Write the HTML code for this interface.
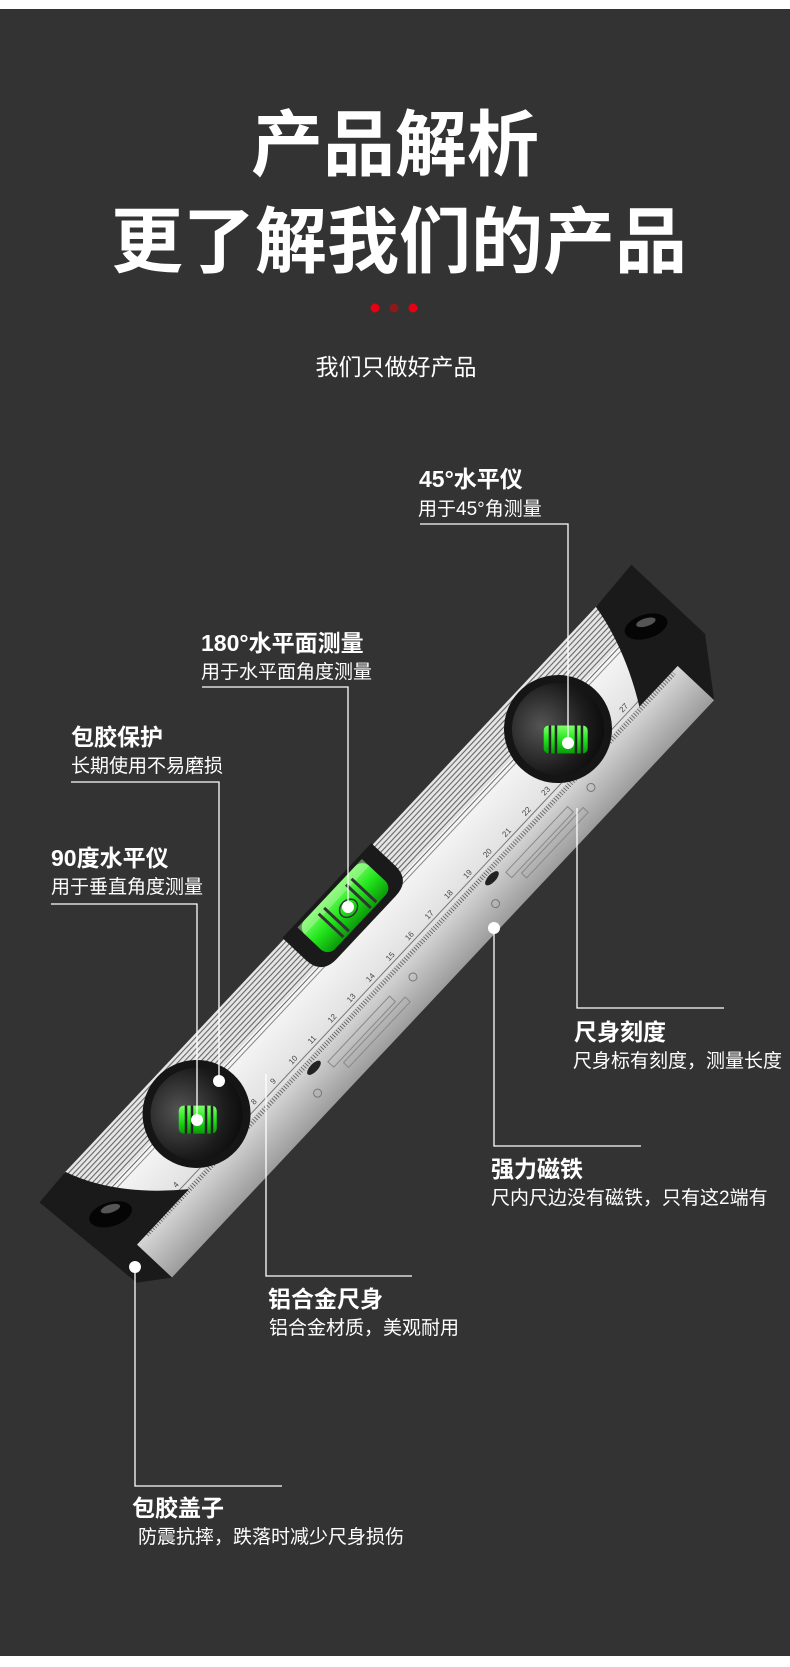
<!DOCTYPE html>
<html><head><meta charset="utf-8">
<style>
html,body{margin:0;padding:0;background:#fff;}
svg{display:block;}
text{font-family:"Liberation Sans","Noto Sans CJK SC",sans-serif;fill:#fff;}
.t{font-size:23px;font-weight:bold;}
.s{font-size:19px;}
</style></head>
<body>
<svg width="790" height="1667" viewBox="0 0 790 1667" xmlns="http://www.w3.org/2000/svg">
<defs>
  <pattern id="str" width="10" height="4" patternUnits="userSpaceOnUse">
    <rect width="10" height="4" fill="#e6e6e6"/>
    <rect y="2.6" width="10" height="1" fill="#5a5a5a"/>
  </pattern>
  <pattern id="mm" x="50" width="2.84" height="10" patternUnits="userSpaceOnUse">
    <rect x="0" y="0" width="0.7" height="5" fill="#444"/>
  </pattern>
  <linearGradient id="side" x1="0" y1="0" x2="0" y2="1">
    <stop offset="0" stop-color="#d8d8d8"/><stop offset="1" stop-color="#9c9c9c"/>
  </linearGradient>
  <linearGradient id="top" x1="0" y1="0" x2="0" y2="1">
    <stop offset="0" stop-color="#f6f6f6"/><stop offset="1" stop-color="#e0e0e0"/>
  </linearGradient>
  <radialGradient id="lens" cx="0.4" cy="0.35" r="0.7">
    <stop offset="0" stop-color="#555"/><stop offset="0.7" stop-color="#1c1c1c"/><stop offset="1" stop-color="#0c0c0c"/>
  </radialGradient>
  <linearGradient id="grn" x1="0" y1="0" x2="0" y2="1">
    <stop offset="0" stop-color="#7dff6a"/><stop offset="0.5" stop-color="#22e51c"/><stop offset="1" stop-color="#0b9a0a"/>
  </linearGradient>
</defs>
<rect width="790" height="1667" fill="#333333"/>
<rect width="790" height="9" fill="#fff"/>
<rect y="1656" width="790" height="11" fill="#fff"/>

<text x="395" y="170" text-anchor="middle" style="font-size:72px;font-weight:bold;">产品解析</text>
<text x="399" y="267" text-anchor="middle" style="font-size:72px;font-weight:bold;">更了解我们的产品</text>
<circle cx="375" cy="308" r="4.5" fill="#e60012"/>
<circle cx="394" cy="308" r="4.5" fill="#8b1a1a"/>
<circle cx="413" cy="308" r="4.5" fill="#e60012"/>
<text x="396" y="375" text-anchor="middle" style="font-size:23px;">我们只做好产品</text>

<g transform="translate(38,1201) rotate(-46.8)">
  <polygon points="33,100 828,100 828,150 36,150" fill="url(#side)"/>
  <rect x="38" y="42" width="790" height="58" fill="url(#top)"/>
  <rect x="38" y="0" width="790" height="42" fill="url(#str)"/>
  <rect x="38" y="44" width="790" height="1" fill="#666"/>
  <rect x="38" y="48" width="790" height="1" fill="#888"/>
  <rect x="38" y="95" width="790" height="1" fill="#777"/>
  <rect x="50" y="100" width="770" height="5" fill="url(#mm)"/>
  <g>
    <text x="48" y="92" style="fill:#444;font-size:8px">2</text>
    <text x="76" y="92" style="fill:#444;font-size:8px">3</text>
    <text x="104" y="92" style="fill:#444;font-size:8px">4</text>
    <text x="133" y="92" style="fill:#444;font-size:8px">5</text>
    <text x="161" y="92" style="fill:#444;font-size:8px">6</text>
    <text x="190" y="92" style="fill:#444;font-size:8px">7</text>
    <text x="218" y="92" style="fill:#444;font-size:8px">8</text>
    <text x="246" y="92" style="fill:#444;font-size:8px">9</text>
    <text x="273" y="92" style="fill:#444;font-size:8px">10</text>
    <text x="301" y="92" style="fill:#444;font-size:8px">11</text>
    <text x="330" y="92" style="fill:#444;font-size:8px">12</text>
    <text x="358" y="92" style="fill:#444;font-size:8px">13</text>
    <text x="386" y="92" style="fill:#444;font-size:8px">14</text>
    <text x="415" y="92" style="fill:#444;font-size:8px">15</text>
    <text x="443" y="92" style="fill:#444;font-size:8px">16</text>
    <text x="472" y="92" style="fill:#444;font-size:8px">17</text>
    <text x="500" y="92" style="fill:#444;font-size:8px">18</text>
    <text x="528" y="92" style="fill:#444;font-size:8px">19</text>
    <text x="557" y="92" style="fill:#444;font-size:8px">20</text>
    <text x="585" y="92" style="fill:#444;font-size:8px">21</text>
    <text x="614" y="92" style="fill:#444;font-size:8px">22</text>
    <text x="642" y="92" style="fill:#444;font-size:8px">23</text>
    <text x="670" y="92" style="fill:#444;font-size:8px">24</text>
    <text x="699" y="92" style="fill:#444;font-size:8px">25</text>
    <text x="727" y="92" style="fill:#444;font-size:8px">26</text>
    <text x="756" y="92" style="fill:#444;font-size:8px">27</text>
    <text x="784" y="92" style="fill:#444;font-size:8px">28</text>
  </g>
  <rect x="300" y="116" width="90" height="8" fill="none" stroke="#888" stroke-width="1"/>
  <rect x="310" y="128" width="90" height="7" fill="none" stroke="#888" stroke-width="1"/>
  <rect x="560" y="116" width="90" height="8" fill="none" stroke="#888" stroke-width="1"/>
  <rect x="570" y="128" width="90" height="7" fill="none" stroke="#888" stroke-width="1"/>
  <circle cx="270" cy="130" r="4" fill="none" stroke="#777"/>
  <circle cx="420" cy="120" r="4" fill="none" stroke="#777"/>
  <circle cx="530" cy="130" r="4" fill="none" stroke="#777"/>
  <circle cx="680" cy="120" r="4" fill="none" stroke="#777"/>
  <ellipse cx="286" cy="110" rx="9" ry="4" fill="#222"/>
  <ellipse cx="546" cy="110" rx="9" ry="4" fill="#222"/>
  <path d="M0,2 L40,0 C52,38 78,72 112,102 L36,102 L36,150 L8,128 Z" fill="#1a1a1a"/>
  <ellipse cx="40" cy="62" rx="22" ry="12" fill="#050505" transform="rotate(30 40 62)"/>
  <ellipse cx="44" cy="58" rx="10" ry="4" fill="#555" transform="rotate(30 44 58)"/>
  <path d="M815,0 L870,-3 L870,98 L828,150 L828,100 L772,100 C792,70 808,35 815,0 Z" fill="#1a1a1a"/>
  <ellipse cx="835" cy="50" rx="22" ry="12" fill="#050505" transform="rotate(30 835 50)"/>
  <ellipse cx="838" cy="47" rx="10" ry="4" fill="#555" transform="rotate(30 838 47)"/>
  <path d="M359,-2 L489,-2 L489,30 Q489,52 467,52 L381,52 Q359,52 359,30 Z" fill="#1a1a1a"/>
  <rect x="377" y="2" width="94" height="42" rx="10" fill="url(#grn)"/>
  <rect x="377" y="2" width="94" height="10" fill="#aef5a0" opacity="0.5"/>
  <rect x="400" y="8" width="3" height="34" fill="#333"/>
  <rect x="408" y="8" width="3" height="34" fill="#333"/>
  <rect x="440" y="8" width="3" height="34" fill="#333"/>
  <rect x="448" y="8" width="3" height="34" fill="#333"/>
  <ellipse cx="426" cy="26" rx="10" ry="8" fill="none" stroke="#333" stroke-width="1.5"/>
  <circle cx="172" cy="56" r="54" fill="#151515"/>
  <circle cx="172" cy="56" r="46" fill="url(#lens)"/>
  <g transform="rotate(46.8 168 60)">
    <rect x="150" y="46" width="38" height="28" rx="5" fill="url(#grn)"/>
    <rect x="156" y="46" width="2.5" height="28" fill="#222"/>
    <rect x="162" y="46" width="2.5" height="28" fill="#222"/>
    <rect x="176" y="46" width="2.5" height="28" fill="#222"/>
    <rect x="182" y="46" width="2.5" height="28" fill="#222"/>
  </g>
  <circle cx="700" cy="56" r="54" fill="#151515"/>
  <circle cx="700" cy="56" r="46" fill="url(#lens)"/>
  <g transform="rotate(46.8 697 68)">
    <rect x="676" y="54" width="44" height="28" rx="5" fill="url(#grn)"/>
    <rect x="681" y="54" width="2.5" height="28" fill="#222"/>
    <rect x="687" y="54" width="2.5" height="28" fill="#222"/>
    <rect x="707" y="54" width="2.5" height="28" fill="#222"/>
    <rect x="713" y="54" width="2.5" height="28" fill="#222"/>
  </g>
</g>

<g stroke="#fff" stroke-width="1.3" fill="none">
  <polyline points="420,524 568,524 568,743"/>
  <polyline points="202,687 348,687 348,907"/>
  <polyline points="71,782 219,782 219,1081"/>
  <polyline points="51,904 197,904 197,1120"/>
  <polyline points="577,808 577,1008 724,1008"/>
  <polyline points="494,928 494,1146 641,1146"/>
  <polyline points="266,1074 266,1276 412,1276"/>
  <polyline points="135,1267 135,1486 282,1486"/>
</g>
<g fill="#fff">
  <circle cx="568" cy="743" r="6"/>
  <circle cx="348" cy="907" r="6"/>
  <circle cx="219" cy="1081" r="6"/>
  <circle cx="197" cy="1120" r="6"/>
  <circle cx="494" cy="928" r="6"/>
  <circle cx="135" cy="1267" r="6"/>
</g>

<text class="t" x="419" y="487">45°水平仪</text>
<text class="s" x="418" y="515">用于45°角测量</text>
<text class="t" x="201" y="651">180°水平面测量</text>
<text class="s" x="201" y="678">用于水平面角度测量</text>
<text class="t" x="71" y="745">包胶保护</text>
<text class="s" x="71" y="772">长期使用不易磨损</text>
<text class="t" x="51" y="866">90度水平仪</text>
<text class="s" x="51" y="893">用于垂直角度测量</text>
<text class="t" x="574" y="1040">尺身刻度</text>
<text class="s" x="573" y="1067">尺身标有刻度，测量长度</text>
<text class="t" x="491" y="1177">强力磁铁</text>
<text class="s" x="491" y="1204">尺内尺边没有磁铁，只有这2端有</text>
<text class="t" x="268" y="1307">铝合金尺身</text>
<text class="s" x="269" y="1334">铝合金材质，美观耐用</text>
<text class="t" x="132" y="1516">包胶盖子</text>
<text class="s" x="138" y="1543">防震抗摔，跌落时减少尺身损伤</text>
</svg>
</body></html>
